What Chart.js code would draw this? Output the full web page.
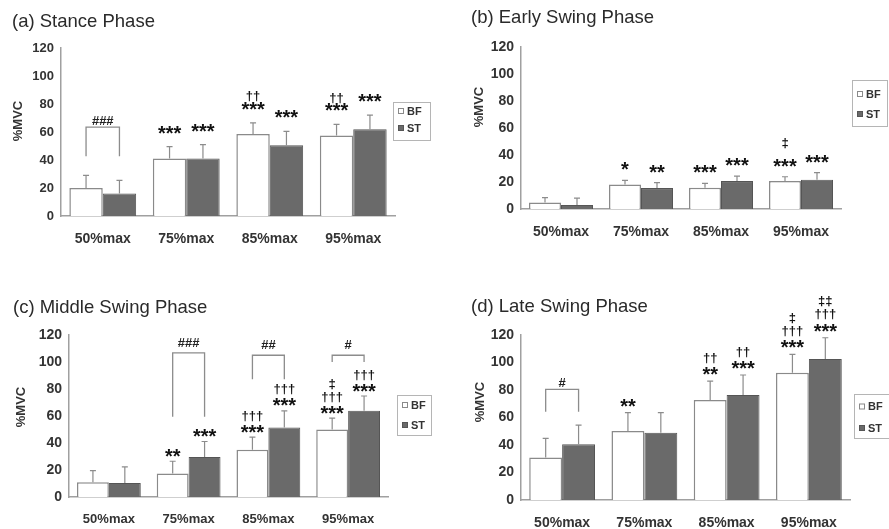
<!DOCTYPE html>
<html>
<head>
<meta charset="utf-8">
<script src="https://cdn.jsdelivr.net/npm/chart.js@4.4.0/dist/chart.umd.min.js"></script>
<style>
  html, body { margin: 0; padding: 0; background: #fff; }
  #wrap { position: relative; width: 889px; height: 529px; overflow: hidden; background: #fff; }
  canvas { position: absolute; }
</style>
</head>
<body>
<div id="wrap">
  <canvas id="chartA" width="445" height="265" style="left:0;top:0"></canvas>
  <canvas id="chartB" width="444" height="265" style="left:445px;top:0"></canvas>
  <canvas id="chartC" width="445" height="264" style="left:0;top:265px"></canvas>
  <canvas id="chartD" width="444" height="264" style="left:445px;top:265px"></canvas>
</div>
<script>
const categories = ["50%max", "75%max", "85%max", "95%max"];
const seriesNames = ["BF", "ST"];
const yTicks = [0, 20, 40, 60, 80, 100, 120];

// (a) Stance Phase
const stanceBF = [20, 41, 58.5, 57.5];
const stanceST = [16, 41, 50.5, 62];
const stanceBFsd = [9, 8.5, 8, 8];
const stanceSTsd = [9.5, 10, 10, 10];
const stanceBFmarks = [[], ["***"], ["***", "††"], ["***", "††"]];
const stanceSTmarks = [[], ["***"], ["***"], ["***"]];
const stanceBrackets = [{ cat: 0, text: "###", top: 63.5, leg: 42.7 }];

// (b) Early Swing Phase
const earlyBF = [4.9, 18.2, 15.8, 20.7];
const earlyST = [3, 15.5, 20.7, 21.7];
const earlyBFsd = [3.5, 3, 3.2, 3.2];
const earlySTsd = [5, 4, 3.7, 5.2];
const earlyBFmarks = [[], ["*"], ["***"], ["***", "‡"]];
const earlySTmarks = [[], ["**"], ["***"], ["***"]];
const earlyBrackets = [];

// (c) Middle Swing Phase
const middleBF = [11, 17.5, 35, 50];
const middleST = [10.3, 29.6, 51.5, 63.8];
const middleBFsd = [8.5, 9, 9.4, 8.4];
const middleSTsd = [12, 11.5, 12.3, 11];
const middleBFmarks = [[], ["**"], ["***", "†††"], ["***", "†††", "‡"]];
const middleSTmarks = [[], ["***"], ["***", "†††"], ["***", "†††"]];
const middleBrackets = [
  { cat: 1, text: "###", top: 106.7, leg: 59.4 },
  { cat: 2, text: "##", top: 105, leg: 87.3 },
  { cat: 3, text: "#", top: 105, leg: 100 }
];

// (d) Late Swing Phase
const lateBF = [31, 50.2, 72.7, 92.6];
const lateST = [40.5, 49, 76.4, 102.5];
const lateBFsd = [13.8, 13.3, 13.8, 13.3];
const lateSTsd = [14, 14.5, 14.5, 15.5];
const lateBFmarks = [[], ["**"], ["**", "††"], ["***", "†††", "‡"]];
const lateSTmarks = [[], [], ["***", "††"], ["***", "†††", "‡‡"]];
const lateBrackets = [{ cat: 0, text: "#", top: 80.5, leg: 64.2 }];

const FONT = "'Liberation Sans', Arial, sans-serif";
const BF_FILL = "#ffffff", BF_LINE = "#8a8a8a";
const ST_FILL = "#6a6a6a", ST_LINE = "#555555";
const AXIS = "#a0a0a0", INK = "#333333";

// placement of the frame pieces for each panel (canvas pixels)
const panels = [
  { id: "chartA", title: "(a) Stance Phase", bf: stanceBF, st: stanceST, bfSd: stanceBFsd, stSd: stanceSTsd,
    bfMarks: stanceBFmarks, stMarks: stanceSTmarks, brackets: stanceBrackets,
    yw: 61, xh: 49, top: 48, right: 50, tick: 13, cat: 14,
    titlePos: [12, 22], yTitlePos: [18, 121], legend: { x: 393, y: 102, w: 37, h: 38, rows: [111, 128] },
    gap: 17, lineSp: 9, brGap: 6 },
  { id: "chartB", title: "(b) Early Swing Phase", bf: earlyBF, st: earlyST, bfSd: earlyBFsd, stSd: earlySTsd,
    bfMarks: earlyBFmarks, stMarks: earlySTmarks, brackets: earlyBrackets,
    yw: 76, xh: 56, top: 47, right: 48, tick: 14, cat: 14,
    titlePos: [26, 18], yTitlePos: [34, 107], legend: { x: 407, y: 80, w: 35, h: 46, rows: [94, 114] },
    gap: 14, lineSp: 19, brGap: 8 },
  { id: "chartC", title: "(c) Middle Swing Phase", bf: middleBF, st: middleST, bfSd: middleBFsd, stSd: middleSTsd,
    bfMarks: middleBFmarks, stMarks: middleSTmarks, brackets: middleBrackets,
    yw: 69, xh: 32, top: 70, right: 57, tick: 14, cat: 13,
    titlePos: [13, 43], yTitlePos: [21, 142], legend: { x: 397, y: 130, w: 34, h: 40, rows: [140, 160] },
    gap: 8.5, lineSp: 12.5, brGap: 10 },
  { id: "chartD", title: "(d) Late Swing Phase", bf: lateBF, st: lateST, bfSd: lateBFsd, stSd: lateSTsd,
    bfMarks: lateBFmarks, stMarks: lateSTmarks, brackets: lateBrackets,
    yw: 76, xh: 29, top: 70, right: 39, tick: 14, cat: 14,
    titlePos: [26, 42], yTitlePos: [35, 137], legend: { x: 409, y: 129, w: 35, h: 44, rows: [141.5, 163] },
    gap: 10, lineSp: 13, brGap: 6 }
];

const decor = {
  id: "decor",
  afterDatasetsDraw(chart, args, P) {
    const ctx = chart.ctx;
    const ys = chart.scales.y;
    ctx.save();

    // error bars (upper only)
    chart.data.datasets.forEach((ds, di) => {
      const meta = chart.getDatasetMeta(di);
      meta.data.forEach((bar, i) => {
        const yTop = ys.getPixelForValue(ds.data[i] + ds.sd[i]);
        ctx.strokeStyle = "#8c8c8c";
        ctx.lineWidth = 1.2;
        ctx.beginPath();
        ctx.moveTo(bar.x, bar.y);
        ctx.lineTo(bar.x, yTop);
        ctx.moveTo(bar.x - 3, yTop);
        ctx.lineTo(bar.x + 3, yTop);
        ctx.stroke();

        // significance marks stacked above the error bar
        ctx.fillStyle = "#111";
        ctx.textAlign = "center";
        ctx.textBaseline = "middle";
        (ds.marks[i] || []).forEach((m, k) => {
          const cy = yTop - P.gap - k * P.lineSp;
          if (m.includes("*")) {
            ctx.font = "bold 20px " + FONT;
            ctx.fillText(m, bar.x, cy + 4.5);
          } else {
            ctx.font = "bold 13px " + FONT;
            ctx.fillText(m, bar.x, cy);
          }
        });
      });
    });

    // brackets between BF and ST
    const m0 = chart.getDatasetMeta(0), m1 = chart.getDatasetMeta(1);
    P.brackets.forEach(b => {
      const x1 = m0.data[b.cat].x, x2 = m1.data[b.cat].x;
      const yT = ys.getPixelForValue(b.top), yL = ys.getPixelForValue(b.leg);
      ctx.strokeStyle = "#8c8c8c";
      ctx.lineWidth = 1.3;
      ctx.beginPath();
      ctx.moveTo(x1, yL);
      ctx.lineTo(x1, yT);
      ctx.lineTo(x2, yT);
      ctx.lineTo(x2, yL);
      ctx.stroke();
      ctx.fillStyle = "#222";
      ctx.font = "bold 13px " + FONT;
      ctx.textAlign = "center";
      ctx.textBaseline = "middle";
      ctx.fillText(b.text, (x1 + x2) / 2, yT - P.brGap);
    });

    // panel title
    ctx.fillStyle = "#2a2a2a";
    ctx.font = "18.5px " + FONT;
    ctx.textAlign = "left";
    ctx.textBaseline = "middle";
    ctx.fillText(P.title, P.titlePos[0], P.titlePos[1]);

    // y axis title
    ctx.save();
    ctx.translate(P.yTitlePos[0], P.yTitlePos[1]);
    ctx.rotate(-Math.PI / 2);
    ctx.font = "bold 13px " + FONT;
    ctx.fillStyle = INK;
    ctx.textAlign = "center";
    ctx.fillText("%MVC", 0, 0);
    ctx.restore();

    // legend box
    const L = P.legend;
    ctx.strokeStyle = "#b5b5b5";
    ctx.lineWidth = 1;
    ctx.strokeRect(L.x + 0.5, L.y + 0.5, L.w, L.h);
    chart.data.datasets.forEach((ds, di) => {
      const ry = L.rows[di];
      ctx.fillStyle = ds.backgroundColor;
      ctx.fillRect(L.x + 5, ry - 3, 6, 6);
      ctx.strokeStyle = ds.borderColor;
      ctx.strokeRect(L.x + 5.5, ry - 2.5, 5, 5);
      ctx.fillStyle = INK;
      ctx.font = "bold 11px 'Liberation Sans Narrow', " + FONT;
      ctx.textAlign = "left";
      ctx.textBaseline = "middle";
      ctx.fillText(ds.label, L.x + 14, ry + 0.5);
    });

    ctx.restore();
  }
};

panels.forEach(P => {
  new Chart(document.getElementById(P.id), {
    type: "bar",
    data: {
      labels: categories,
      datasets: [
        { label: seriesNames[0], data: P.bf, sd: P.bfSd, marks: P.bfMarks,
          backgroundColor: BF_FILL, borderColor: BF_LINE, borderWidth: 1.5 },
        { label: seriesNames[1], data: P.st, sd: P.stSd, marks: P.stMarks,
          backgroundColor: ST_FILL, borderColor: ST_LINE, borderWidth: 1 }
      ]
    },
    options: {
      responsive: false,
      animation: false,
      devicePixelRatio: 1,
      categoryPercentage: 0.8,
      barPercentage: 1.0,
      layout: { padding: { left: 0, right: P.right, top: P.top, bottom: 0 } },
      plugins: {
        legend: { display: false },
        tooltip: { enabled: false },
        title: { display: false },
        decor: P
      },
      scales: {
        x: {
          grid: { display: false, drawTicks: false },
          border: { display: true, color: AXIS, width: 1.5 },
          ticks: { color: INK, padding: 15, font: { family: FONT, size: P.cat, weight: "bold" } },
          afterFit: s => { s.height = P.xh; }
        },
        y: {
          min: 0,
          max: 120,
          afterBuildTicks: s => { s.ticks = yTicks.map(v => ({ value: v })); },
          grid: { display: false, drawTicks: false },
          border: { display: true, color: AXIS, width: 1.5 },
          ticks: { color: INK, padding: 7, font: { family: FONT, size: P.tick, weight: "bold" } },
          afterFit: s => { s.width = P.yw; }
        }
      }
    },
    plugins: [decor]
  });
});
</script>
</body>
</html>
